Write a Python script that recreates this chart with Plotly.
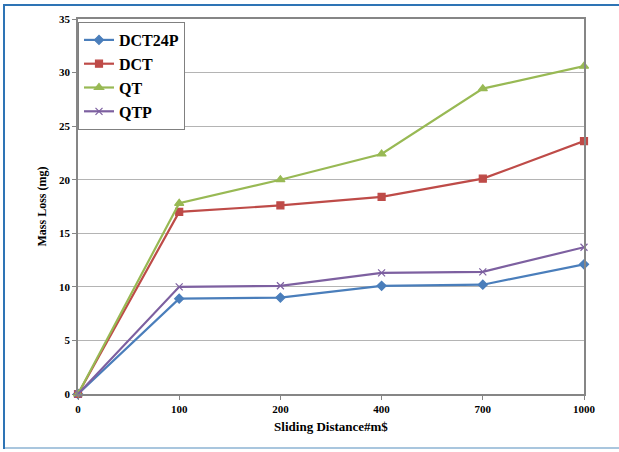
import plotly.graph_objects as go

distances = ["0", "100", "200", "400", "700", "1000"]
dct24p = [0, 8.9, 9.0, 10.1, 10.2, 12.1]
dct = [0, 17.0, 17.6, 18.4, 20.1, 23.6]
qt = [0, 17.8, 20.0, 22.4, 28.5, 30.6]
qtp = [0, 10.0, 10.1, 11.3, 11.4, 13.7]

series = [
    ("DCT24P", dct24p, "#4A7EBB", "diamond", 7),
    ("DCT", dct, "#BE4B48", "square", 7),
    ("QT", qt, "#98B954", "triangle-up", 8),
    ("QTP", qtp, "#7D60A0", "x-thin", 7),
]

FONT = "Liberation Serif, Times New Roman, serif"

fig = go.Figure()
for name, vals, col, sym, sz in series:
    fig.add_trace(go.Scatter(
        x=distances, y=vals, name=name, mode="lines+markers",
        line=dict(color=col, width=2.2),
        marker=dict(symbol=sym, size=sz, color=col, line=dict(color=col, width=1.2)),
        cliponaxis=False,
    ))

W, H = 619, 452
L, R, T, B = 78, 35, 19, 58
pw, ph = W - L - R, H - T - B

def px(x):
    return (x - L) / pw

def py(y):
    return (H - B - y) / ph

shapes = [
    dict(type="rect", xref="paper", yref="paper", x0=px(4), x1=px(W + 20), y0=py(5), y1=py(448),
         line=dict(color="#2E74B5", width=2), fillcolor="rgba(0,0,0,0)", layer="below"),
    dict(type="line", xref="paper", yref="paper", x0=px(5), x1=px(W + 20), y0=py(448), y1=py(448),
         line=dict(color="#A9C6DE", width=2)),
]

fig.update_layout(
    width=W, height=H,
    margin=dict(l=L, r=R, t=T, b=B),
    paper_bgcolor="white", plot_bgcolor="rgba(0,0,0,0)",
    font=dict(family=FONT, color="black"),
    showlegend=True,
    legend=dict(
        x=0.0, y=0.992, xanchor="left", yanchor="top",
        bgcolor="white", bordercolor="#808080", borderwidth=1,
        font=dict(family=FONT, size=16, weight="bold", color="black"),
        itemwidth=30, tracegroupgap=2,
    ),
    shapes=shapes,
    xaxis=dict(
        type="category", range=[0, 5],
        showgrid=False, showline=True, linecolor="#868686", linewidth=1.5, mirror=True,
        ticks="outside", ticklen=4, tickcolor="#868686",
        tickfont=dict(family=FONT, size=11, weight="bold"),
        title=dict(text="Sliding Distance#m$", font=dict(family=FONT, size=13, weight="bold"), standoff=8),
        zeroline=False,
    ),
    yaxis=dict(
        range=[0, 35], dtick=5, tick0=0,
        showgrid=True, gridcolor="#B4B4B4", gridwidth=1,
        showline=True, linecolor="#868686", linewidth=1.5, mirror=True,
        ticks="outside", ticklen=4, tickcolor="#868686",
        tickfont=dict(family=FONT, size=11, weight="bold"),
        title=dict(text="Mass Loss (mg)", font=dict(family=FONT, size=12, weight="bold"), standoff=10),
        zeroline=False,
    ),
)

fig.write_html(
    "out.html",
    config={"displayModeBar": False},
    post_script=(
        "document.body.style.margin='0';document.body.style.padding='0';"
        "document.body.style.overflow='hidden';"
        "document.documentElement.style.overflow='hidden';"
    ),
)
